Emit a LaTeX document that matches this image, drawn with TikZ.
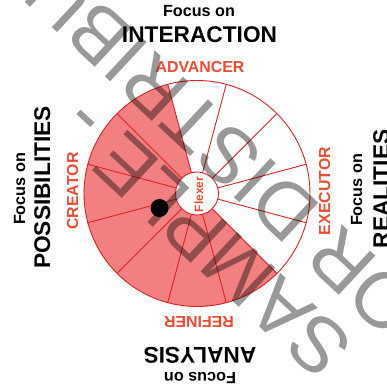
\documentclass[tikz,border=0pt]{standalone}
\usepackage{fontspec}
\setmainfont{Liberation Sans}
\definecolor{wheelred}{RGB}{228,32,36}
\definecolor{wheelfill}{RGB}{242,128,128}
\definecolor{rolered}{RGB}{239,75,50}
\tikzset{
  focustxt/.style={font=\bfseries\fontsize{16.2}{18}\selectfont, inner sep=0pt, anchor=base},
  bigtxt/.style={font=\bfseries\fontsize{22.7}{26}\selectfont, inner sep=0pt, anchor=base},
  roletxt/.style={font=\bfseries\fontsize{15.9}{18}\selectfont, text=rolered, inner sep=0pt, anchor=base},
  spokeline/.style={draw=wheelred, line width=0.9pt},
  wmtxt/.style={font=\fontsize{78}{90}\selectfont, text=black, text opacity=0.4, inner sep=0pt, rotate=137}
}
\begin{document}
\begin{tikzpicture}[x=1pt,y=1pt]
\useasboundingbox (0,0) rectangle (387,390);
\clip (0,0) rectangle (387,390);
\coordinate (C) at (197,196.5);
% red sectors
\fill[wheelfill] (C) -- ++(105:113) arc[start angle=105, end angle=315, radius=113] -- cycle;
% outer circle
\draw[spokeline] (C) circle[radius=113];
% spokes
\foreach \a in {15,45,...,345}
  \draw[spokeline] (C) ++(\a:21.5) -- ++(\a:91.5);
% centre
\node[circle, draw=wheelred, fill=white, line width=0.9pt, minimum size=43pt, inner sep=0pt] (flexer) at (C) {};
\node[roletxt, font=\bfseries\fontsize{12}{14}\selectfont, rotate=90] (flexlbl) at (203,195.5) {Flexer};
\node[circle, fill=black, minimum size=18pt, inner sep=0pt] (dot) at (159.5,182) {};
% top
\node[focustxt] (ftop) at (199,373) {Focus on};
\node[bigtxt] (interaction) at (199.5,347) {INTERACTION};
\node[roletxt] (advancer) at (200,317) {ADVANCER};
% left
\node[focustxt, rotate=90] (fleft) at (25,201) {Focus on};
\node[bigtxt, rotate=90] (possib) at (50,202.5) {POSSIBILITIES};
\node[roletxt, rotate=90] (creator) at (78,199) {CREATOR};
% right
\node[roletxt, rotate=90] (executor) at (330,199) {EXECUTOR};
\node[focustxt, rotate=90] (fright) at (362,200) {Focus on};
\node[bigtxt, rotate=90] (realities) at (389,201) {REALITIES};
% bottom
\node[roletxt, rotate=180] (refiner) at (199,73) {REFINER};
\node[bigtxt, rotate=180] (analysis) at (200,42) {ANALYSIS};
\node[focustxt, rotate=180] (fbottom) at (200,17) {Focus on};
% watermark
\node[wmtxt] (wmA) at (205,151) {SAMPLE -};
\node[wmtxt] (wmB) at (171.7,287.3) {FOR DISTRIBUTION};
\end{tikzpicture}
\end{document}
